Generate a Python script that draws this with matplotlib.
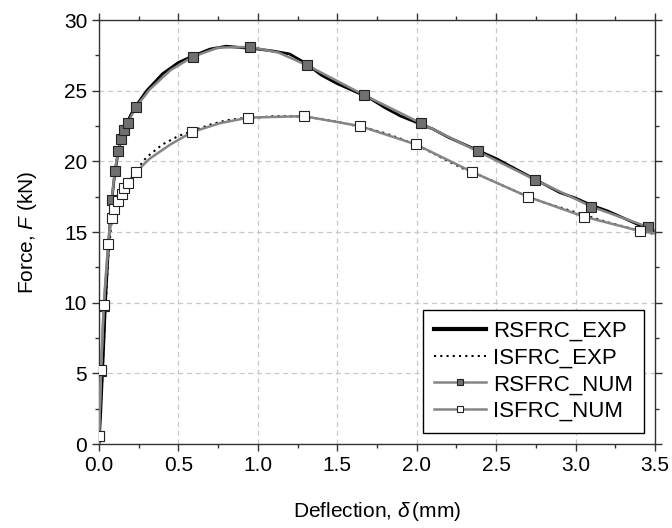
import matplotlib
matplotlib.use("Agg")
import matplotlib.pyplot as plt

# ---- data ----
rsfrc_exp_x = [0, 0.01, 0.02, 0.03, 0.04, 0.05, 0.06, 0.07, 0.08, 0.10, 0.12, 0.14, 0.16,
               0.18, 0.20, 0.25, 0.30, 0.40, 0.50, 0.60, 0.70, 0.80, 0.90, 1.00, 1.10,
               1.20, 1.30, 1.40, 1.50, 1.60, 1.70, 1.80, 1.90, 2.00, 2.10, 2.20, 2.30,
               2.40, 2.50, 2.60, 2.70, 2.80, 2.90, 3.00, 3.10, 3.20, 3.30, 3.40, 3.50]
rsfrc_exp_y = [0, 2.0, 4.5, 7.0, 9.8, 12.0, 14.0, 15.8, 17.2, 19.2, 20.6, 21.6, 22.3,
               22.8, 23.3, 24.2, 25.0, 26.2, 27.0, 27.5, 27.95, 28.15, 28.05, 27.95, 27.8,
               27.6, 26.95, 26.1, 25.5, 25.0, 24.5, 23.8, 23.2, 22.75, 22.3, 21.7, 21.2,
               20.7, 20.2, 19.6, 19.0, 18.4, 17.8, 17.4, 16.9, 16.5, 16.0, 15.5, 15.1]

isfrc_exp_x = [0, 0.02, 0.04, 0.06, 0.08, 0.10, 0.12, 0.15, 0.20, 0.25, 0.30, 0.40, 0.50,
               0.60, 0.70, 0.80, 0.90, 1.00, 1.10, 1.20, 1.30, 1.40, 1.50, 1.60, 1.70,
               1.80, 1.90, 2.00, 2.10, 2.20, 2.30, 2.40, 2.50, 2.60, 2.70, 2.80, 2.90,
               3.00, 3.10, 3.20, 3.30, 3.40, 3.50]
isfrc_exp_y = [0, 4.5, 9.5, 13.5, 15.8, 16.8, 17.4, 18.0, 18.8, 19.6, 20.3, 21.2, 21.8,
               22.2, 22.6, 22.9, 23.05, 23.1, 23.2, 23.2, 23.15, 23.0, 22.8, 22.55, 22.3,
               22.0, 21.6, 21.15, 20.6, 20.0, 19.45, 19.0, 18.5, 18.0, 17.5, 17.1, 16.75,
               16.4, 16.05, 15.7, 15.4, 15.1, 14.85]

rsfrc_num_x = [0, 0.0, 0.013, 0.03, 0.08, 0.10, 0.12, 0.138, 0.157, 0.18, 0.233, 0.32, 0.45,
               0.59, 0.75, 0.95, 1.13, 1.31, 1.668, 2.027, 2.386, 2.745, 3.10, 3.456, 3.5]
rsfrc_num_y = [0, 0.55, 5.2, 9.8, 17.3, 19.3, 20.7, 21.6, 22.2, 22.7, 23.85, 25.1, 26.45,
               27.4, 28.05, 28.1, 27.7, 26.8, 24.7, 22.7, 20.7, 18.7, 16.8, 15.36, 15.1]
rsfrc_num_marks = [1, 2, 3, 4, 5, 6, 7, 8, 9, 10, 13, 15, 17, 18, 19, 20, 21, 22, 23]

isfrc_num_x = [0, 0.0, 0.013, 0.03, 0.057, 0.08, 0.095, 0.12, 0.143, 0.157, 0.18, 0.233,
               0.32, 0.45, 0.585, 0.76, 0.94, 1.29, 1.643, 1.995, 2.35, 2.70, 3.05, 3.405, 3.5]
isfrc_num_y = [0, 0.55, 5.24, 9.84, 14.15, 16.0, 16.6, 17.2, 17.7, 18.1, 18.5, 19.25,
               20.2, 21.2, 22.07, 22.7, 23.1, 23.2, 22.5, 21.2, 19.25, 17.5, 16.1, 15.07, 14.9]
isfrc_num_marks = [1, 2, 3, 4, 5, 6, 7, 8, 9, 10, 11, 14, 16, 17, 18, 19, 20, 21, 22, 23]

x_ticks = [0.0, 0.5, 1.0, 1.5, 2.0, 2.5, 3.0, 3.5]
y_ticks = [0, 5, 10, 15, 20, 25, 30]

plt.rcParams["font.family"] = ["Liberation Sans", "DejaVu Sans"]
plt.rcParams["mathtext.fontset"] = "custom"
plt.rcParams["mathtext.it"] = "Liberation Sans:italic"
plt.rcParams["mathtext.rm"] = "Liberation Sans"

fig = plt.figure(figsize=(6.72, 5.28), dpi=100)
ax = fig.add_axes([0.1473, 0.159, 0.8274, 0.803])

ax.plot(rsfrc_exp_x, rsfrc_exp_y, color="black", lw=2.0, label="RSFRC_EXP", zorder=3)
ax.plot(isfrc_exp_x, isfrc_exp_y, color="black", lw=1.5, ls=(0, (1, 2)),
        label="ISFRC_EXP", zorder=3)
ax.plot(rsfrc_num_x, rsfrc_num_y, color="#858585", lw=1.8, marker="s", ms=7,
        mfc="#707070", mec="#222222", mew=0.8, markevery=rsfrc_num_marks,
        label="RSFRC_NUM", zorder=4)
ax.plot(isfrc_num_x, isfrc_num_y, color="#858585", lw=1.8, marker="s", ms=7,
        mfc="white", mec="#222222", mew=0.8, markevery=isfrc_num_marks,
        label="ISFRC_NUM", zorder=4)

ax.set_xlim(0, 3.5)
ax.set_ylim(0, 30)
ax.set_xticks(x_ticks)
ax.set_xticklabels([f"{v:.1f}" for v in x_ticks])
ax.set_yticks(y_ticks)
ax.set_xticks([0.25, 0.75, 1.25, 1.75, 2.25, 2.75, 3.25], minor=True)
ax.set_yticks([2.5, 7.5, 12.5, 17.5, 22.5, 27.5], minor=True)
ax.tick_params(which="both", direction="out", top=True, right=True,
               labeltop=False, labelright=False, color="#333333")
ax.tick_params(which="major", length=5, width=1, labelsize=15)
ax.tick_params(which="minor", length=3, width=1)
ax.grid(True, which="major", ls=(0, (4, 3)), color="#c8c8c8", lw=0.9)
for s in ax.spines.values():
    s.set_color("#333333")
    s.set_linewidth(1.0)

ax.set_xlabel(r"Deflection, $\delta\,$(mm)", fontsize=15, labelpad=18)
ax.set_ylabel(r"Force, $F$ (kN)", fontsize=15, labelpad=18)

leg = ax.legend(loc="lower right", fontsize=16, frameon=True, fancybox=False,
                edgecolor="black", framealpha=1, handlelength=2.35,
                borderaxespad=0.5, labelspacing=0.25, handletextpad=0.3,
                borderpad=0.5)
leg.get_frame().set_linewidth(1.0)
for h in leg.legend_handles[2:]:
    h.set_markersize(5)
leg.legend_handles[0].set_linewidth(3)

fig.savefig("out.png", dpi=100)
